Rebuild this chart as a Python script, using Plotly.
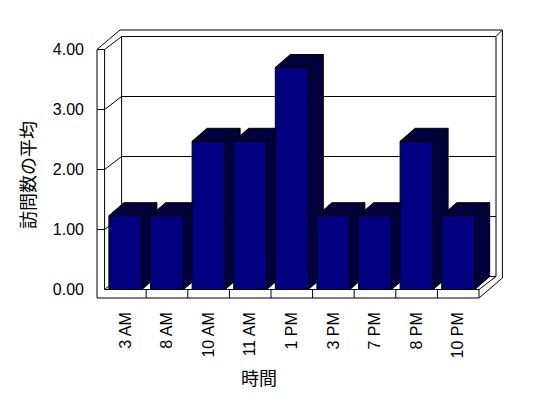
import plotly.graph_objects as go

# ---- data ----
categories = ["3 AM", "8 AM", "10 AM", "11 AM", "1 PM", "3 PM", "7 PM", "8 PM", "10 PM"]
values = [1.23, 1.23, 2.47, 2.47, 3.70, 1.23, 1.23, 2.47, 1.23]
y_ticks = [0, 1, 2, 3, 4]
y_tick_labels = ["0.00", "1.00", "2.00", "3.00", "4.00"]
x_title = "時間"
y_title = "訪問数の平均"

# ---- geometry (pixel scales of the axes) ----
W, H = 548, 398
PX_X = 41.6      # px per category slot
PX_Y = 60.0      # px per value unit
X0_PX = 104.6    # px position of x = 0
Y0_PX = 289.5    # px position of v = 0
xr = [-X0_PX / PX_X, (W - X0_PX) / PX_X]
yr = [-(H - Y0_PX) / PX_Y, Y0_PX / PX_Y]

def hx(px):
    return px / PX_X

def hy(px):
    return px / PX_Y

n = len(categories)
vmax = max(y_ticks)
DX, DY = hx(17), hy(13)          # wall depth
xo = -hx(7.6)                    # outer left wall face
fb = -hy(8.5)                    # floor bottom
XR = n + DX + hx(6.4)            # outer right edge
YT = vmax + DY + hy(6.5)         # outer top edge
ODX_T = hx(23.0)
ODY_B = hy(20.0)
BW = hx(16.5)                    # half bar width
BDX, BDY = hx(15), hy(13)        # bar depth

fig = go.Figure()

# frame lines
segs = []
segs.append([(xo, fb), (xo, vmax), (0, vmax), (0, 0)])
segs.append([(0, 0), (n, 0), (n, fb), (xo, fb)])
for k in range(1, n):
    segs.append([(k, 0), (k, fb)])
for v in y_ticks:
    if v == 0:
        segs.append([(0, v), (DX, v + DY), (n + DX, v + DY)])
    else:
        segs.append([(xo, v), (0, v), (DX, v + DY), (n + DX, v + DY)])
segs.append([(DX, DY), (DX, vmax + DY)])
segs.append([(xo, vmax), (xo + ODX_T, YT), (XR, YT), (XR, fb + ODY_B)])
segs.append([(n + DX, DY), (n + DX, vmax + DY), (XR, YT)])
segs.append([(n, 0), (n + DX, DY)])
segs.append([(n, fb), (XR, fb + ODY_B)])

lx, ly = [], []
for s in segs:
    for (a, b) in s:
        lx.append(a)
        ly.append(b)
    lx.append(None)
    ly.append(None)
fig.add_trace(go.Scatter(x=lx, y=ly, mode="lines", line=dict(color="black", width=1),
                         hoverinfo="skip", showlegend=False))

FRONT = "#000080"
DARK = "#00003c"

def poly(pts, color):
    xs = [p[0] for p in pts] + [pts[0][0]]
    ys = [p[1] for p in pts] + [pts[0][1]]
    fig.add_trace(go.Scatter(x=xs, y=ys, mode="lines", fill="toself", fillcolor=color,
                             line=dict(color="black", width=1), hoverinfo="skip",
                             showlegend=False))

for i, v in enumerate(values):
    xl = i + 0.5 - BW
    xrt = i + 0.5 + BW
    poly([(xrt, 0), (xrt, v), (xrt + BDX, v + BDY), (xrt + BDX, BDY)], DARK)
    poly([(xl, v), (xrt, v), (xrt + BDX, v + BDY), (xl + BDX, v + BDY)], DARK)
    poly([(xl, 0), (xrt, 0), (xrt, v), (xl, v)], FRONT)

tick_font = dict(family="Liberation Sans, Arial, sans-serif", size=16, color="black")
cjk_font = dict(family="Noto Sans CJK JP, sans-serif", size=18, color="black")

fig.update_layout(
    width=W, height=H, autosize=False,
    margin=dict(l=0, r=0, t=0, b=0, pad=0),
    paper_bgcolor="white", plot_bgcolor="white",
    showlegend=False, hovermode=False,
    xaxis=dict(range=xr, showgrid=False, zeroline=False, showline=False,
               tickmode="array", tickvals=[i + 0.5 for i in range(n)], ticktext=categories,
               tickangle=-90, ticks="", tickfont=tick_font,
               anchor="free", position=(H - 298) / H, ticklabelstandoff=10,
               fixedrange=True),
    yaxis=dict(range=yr, showgrid=False, zeroline=False, showline=False,
               tickmode="array", tickvals=y_ticks, ticktext=y_tick_labels,
               ticks="", tickfont=tick_font,
               anchor="free", position=97 / W, ticklabelstandoff=13,
               fixedrange=True),
    annotations=[
        dict(text=y_title, xref="paper", yref="paper", x=27 / W, y=1 - 175 / H,
             textangle=-90, showarrow=False, font=cjk_font,
             xanchor="center", yanchor="middle"),
        dict(text=x_title, xref="paper", yref="paper", x=259 / W, y=1 - 377 / H,
             showarrow=False, font=cjk_font, xanchor="center", yanchor="middle"),
    ],
)

fig.write_html("out.html")
